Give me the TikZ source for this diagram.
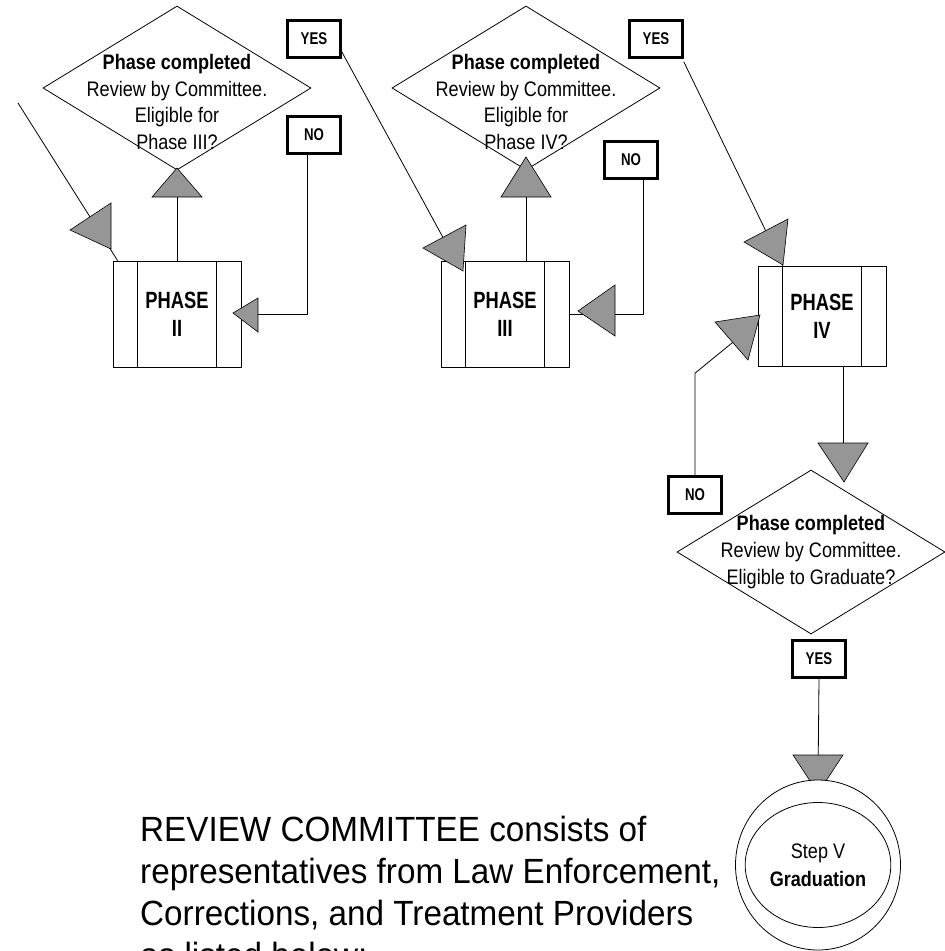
\documentclass[tikz,border=0pt]{standalone}
\usepackage{fontspec}
\setmainfont{Liberation Sans}
\newfontfamily\chartfont{Liberation Sans}[FakeStretch=0.86]
\newfontfamily\narrowfont{Liberation Sans}[FakeStretch=0.78]
\newfontfamily\notefont{Liberation Sans}[FakeStretch=0.95]
\usepackage{tikz}
\usetikzlibrary{shapes.geometric}
\definecolor{headgray}{RGB}{150,150,150}
\tikzset{
  decision/.style={draw, diamond, line width=0.8pt, minimum width=268pt, minimum height=164pt, inner sep=0pt},
  decisiontext/.style={align=center, inner sep=0pt, font=\chartfont\fontsize{21}{26.7}\selectfont},
  phasebox/.style={draw, line width=0.8pt, minimum width=128pt, minimum height=106pt, align=center, font=\narrowfont\bfseries\fontsize{23.5}{28}\selectfont},
  answer/.style={draw, line width=2.6pt, minimum width=53pt, minimum height=37pt, inner sep=0pt, font=\narrowfont\bfseries\fontsize{17}{20}\selectfont},
  head/.style={fill=headgray, draw=black, line width=0.6pt},
  link/.style={line width=0.8pt},
}

\begin{document}
\begin{tikzpicture}[x=1pt, y=-1pt]
    \useasboundingbox (0,0) rectangle (945,951);

    % Review diamonds
    \node[decision] (rev2) at (177,88) {};
    \node[decision] (rev3) at (526,88) {};
    \node[decision] (rev4) at (811,552) {};

    \node[decisiontext] (rev2txt) at (177,102) {\textbf{Phase completed}\\Review by Committee.\\Eligible for\\Phase III?};
    \node[decisiontext] (rev3txt) at (526,102) {\textbf{Phase completed}\\Review by Committee.\\Eligible for\\Phase IV?};
    \node[decisiontext] (rev4txt) at (811,552) {\textbf{Phase completed}\\Review by Committee.\\Eligible to Graduate?};

    % Phase boxes with side bars
    \node[phasebox] (ph2) at (177,314) {PHASE\\II};
    \node[phasebox] (ph3) at (505,314) {PHASE\\III};
    \node[phasebox, minimum height=100pt] (ph4) at (822,316) {PHASE\\IV};
    \foreach \b in {ph2,ph3,ph4} {
        \draw[link] ([xshift=25]\b.north west) -- ([xshift=25]\b.south west);
        \draw[link] ([xshift=-25]\b.north east) -- ([xshift=-25]\b.south east);
    }

    % YES / NO labels
    \node[answer] (yes2) at (314,39) {YES};
    \node[answer] (no2) at (314,135) {NO};
    \node[answer] (yes3) at (656,39) {YES};
    \node[answer] (no3) at (631,160) {NO};
    \node[answer] (no4) at (695,495) {NO};
    \node[answer] (yes4) at (819,659) {YES};

    % Connectors
    \coordinate (from1) at (18,103);
    \coordinate (gradtop) at (818,780);
    \draw[link] (from1) -- ([xshift=5]ph2.north west);
    \draw[link] (ph2.north) -- (rev2.south);
    \draw[link] ([xshift=-7]no2.south) |- (ph2.east);
    \draw[link] (ph3.north -| rev3.south) -- (rev3.south);
    \draw[link] ([yshift=7]yes2.south east) -- ([xshift=15]ph3.north west);
    \draw[link] ([xshift=12]no3.south) |- (ph3.east);
    \draw[link] ([yshift=-3]yes3.south east) -- ([xshift=25]ph4.north west);
    \draw[link] (no4.north) -- ++(0,-102) -- ([yshift=-6]ph4.west);
    \draw[link] ([xshift=21]ph4.south) -- ([xshift=21]ph4.south |- rev4.north);
    \draw[link] (yes4.south) -- (gradtop);

    % Arrow heads
    \filldraw[head] (177,168) -- (152,197) -- (202,197) -- cycle;
    \filldraw[head] (70,230) -- (111,203) -- (111,249) -- cycle;
    \filldraw[head] (233,313) -- (258,298) -- (258,332) -- cycle;
    \filldraw[head] (526,157) -- (501,197) -- (551,197) -- cycle;
    \filldraw[head] (423,248) -- (466,225) -- (463,271) -- cycle;
    \filldraw[head] (578,311) -- (615,285) -- (615,336) -- cycle;
    \filldraw[head] (744,242) -- (788,219) -- (783,265) -- cycle;
    \filldraw[head] (715,322) -- (760,315) -- (748,360) -- cycle;
    \filldraw[head] (818,443) -- (868,443) -- (844,482) -- cycle;
    \filldraw[head] (793,755) -- (843,755) -- (818,793) -- cycle;

    % Graduation
    \node[draw, ellipse, line width=0.8pt, fill=white, minimum width=165pt, minimum height=170pt] (grad) at (818,865) {};
    \node[draw, ellipse, line width=0.8pt, minimum width=121pt, minimum height=125pt, align=center, font=\chartfont\fontsize{21}{28}\selectfont] (gradin) at (818,865) {Step V\\\textbf{Graduation}};

    % Committee note
    \node[anchor=north west, align=left, inner sep=0pt, font=\notefont\fontsize{35}{42}\selectfont] (committee) at (140,816) {REVIEW COMMITTEE consists of\\representatives from Law Enforcement,\\Corrections, and Treatment Providers\\as listed below:};

\end{tikzpicture}
\end{document}
